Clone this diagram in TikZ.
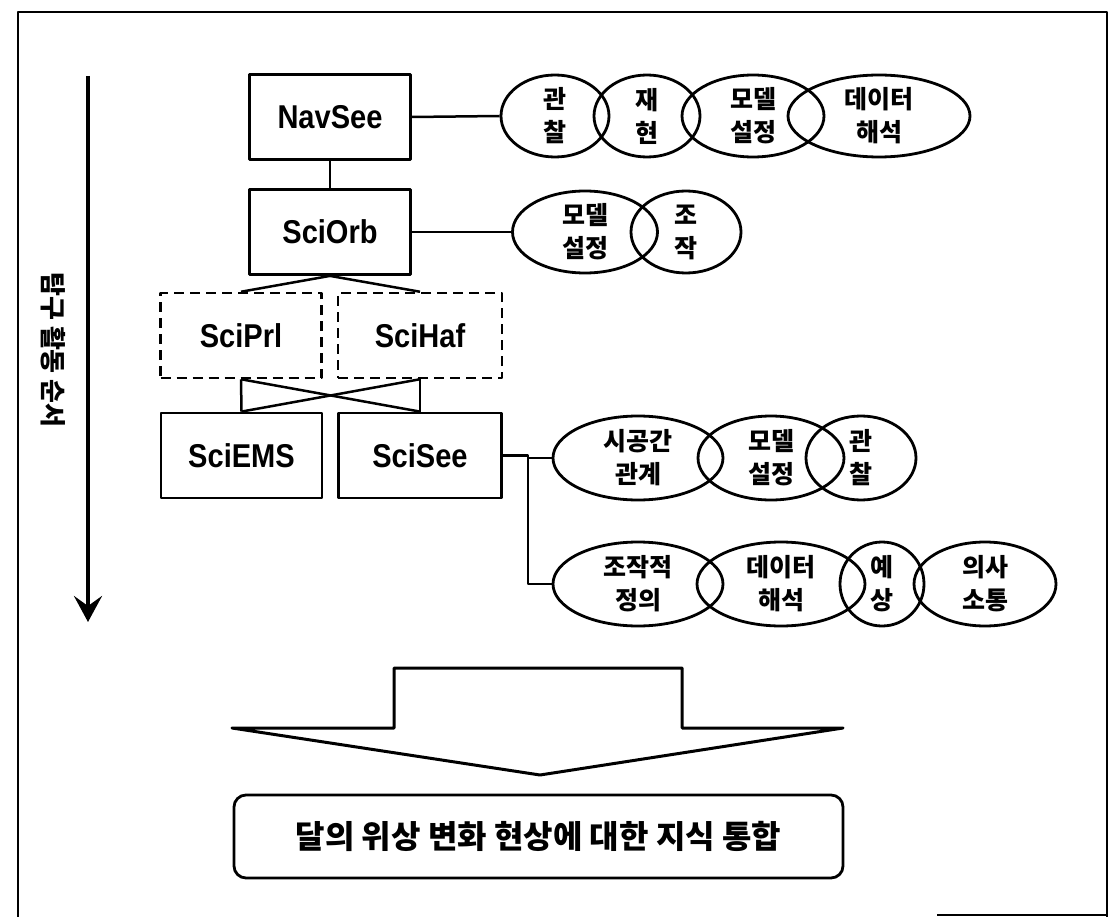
\documentclass[tikz,border=0pt]{standalone}
\usepackage{fontspec}
\newfontfamily\kr{Noto Sans CJK KR}
\newfontfamily\lab{Liberation Sans}[FakeStretch=0.88]
\usetikzlibrary{shapes.geometric,arrows.meta}
\tikzset{
  mbox/.style={draw, line width=2.8pt, minimum width=161pt, minimum height=85pt, inner sep=0pt,
    font=\lab\bfseries\fontsize{33}{36}\selectfont},
  dbox/.style={mbox, line width=2.5pt, dash pattern=on 10pt off 6pt},
  oval/.style 2 args={draw, ellipse, line width=2.8pt, minimum width=#1, minimum height=#2,
    inner sep=0pt, align=center, font=\kr\bfseries\fontsize{25}{33}\selectfont},
  conn/.style={line width=2.5pt},
}
\begin{document}
\begin{tikzpicture}[x=1pt,y=-1pt,line join=round]
\useasboundingbox (0,0) rectangle (1116,917);
% frame
\draw[line width=2.4pt] (18,917) -- (18,12) -- (1107,12) -- (1107,917);
\draw[line width=2.4pt] (937,915) -- (1107,915);
% order arrow
\coordinate (atop) at (88,76);
\coordinate (abot) at (88,622);
\draw[line width=4.5pt,-{Stealth[length=26pt,width=28pt,inset=10pt]}] (atop) -- (abot);
\node[rotate=-90,font=\kr\bfseries\fontsize{26}{28}\selectfont] (order) at (53,350) {탐구 활동 순서};
% boxes
\node[mbox] (navsee) at (330,117) {NavSee};
\node[mbox] (sciorb) at (330,232) {SciOrb};
\node[dbox] (sciprl) at (241,335.5) {SciPrl};
\node[dbox,minimum width=164pt] (scihaf) at (420,335.5) {SciHaf};
\node[mbox] (sciems) at (241.5,455.5) {SciEMS};
\node[mbox,minimum width=163pt] (scisee) at (420,455.5) {SciSee};
\draw[conn] (navsee.south) -- (sciorb.north);
\draw[conn] (sciorb.south) -- (sciprl.north);
\draw[conn] (sciorb.south) -- (scihaf.north);
\draw[conn] (sciprl.south) -- (sciems.north);
\draw[conn] (scihaf.south) -- (scisee.north);
\draw[conn] (sciprl.south) -- (scisee.north);
\draw[conn] (scihaf.south) -- (sciems.north);
% row 1
\node[oval={108pt}{82pt}] (e11) at (555,116) {관\\찰};
\node[oval={106pt}{82pt}] (e12) at (647,116) {재\\현};
\node[oval={142pt}{82pt}] (e13) at (753,116) {모델\\설정};
\node[oval={182pt}{82pt}] (e14) at (879,116) {데이터\\해석};
\draw[conn] (navsee.east) -- (e11.west);
% row 2
\node[oval={145pt}{82pt}] (e21) at (585,232) {모델\\설정};
\node[oval={110pt}{82pt}] (e22) at (686,232) {조\\작};
\draw[conn] (sciorb.east) -- (e21.west);
% row 3
\node[oval={170pt}{84pt}] (e31) at (638,458) {시공간\\관계};
\node[oval={146pt}{84pt}] (e32) at (771,458) {모델\\설정};
\node[oval={110pt}{84pt}] (e33) at (861,458) {관\\찰};
% row 4
\node[oval={170pt}{84pt}] (e41) at (638,584) {조작적\\정의};
\node[oval={168pt}{84pt}] (e42) at (781,584) {데이터\\해석};
\node[oval={84pt}{84pt}] (e43) at (882,584) {예\\상};
\node[oval={142pt}{84pt}] (e44) at (985,584) {의사\\소통};
\coordinate (jt) at (528,455.5);
\coordinate (jm) at (528,458);
\coordinate (jb) at (528,584);
\draw[conn] (scisee.east) -- (jt) -- (jb) -- (e41.west);
\draw[conn] (jm) -- (e31.west);
% big arrow
\draw[line width=3pt] (394,668) -- (682,668) -- (682,728) -- (843,728) -- (540,775)
  -- (232,728) -- (394,728) -- cycle;
% goal box
\node[draw,rounded corners=12pt,line width=2.8pt,minimum width=609pt,minimum height=83pt,
  font=\kr\bfseries\fontsize{32}{36}\selectfont] (goal) at (538.5,836.5)
  {달의 위상 변화 현상에 대한 지식 통합};
\end{tikzpicture}
\end{document}
